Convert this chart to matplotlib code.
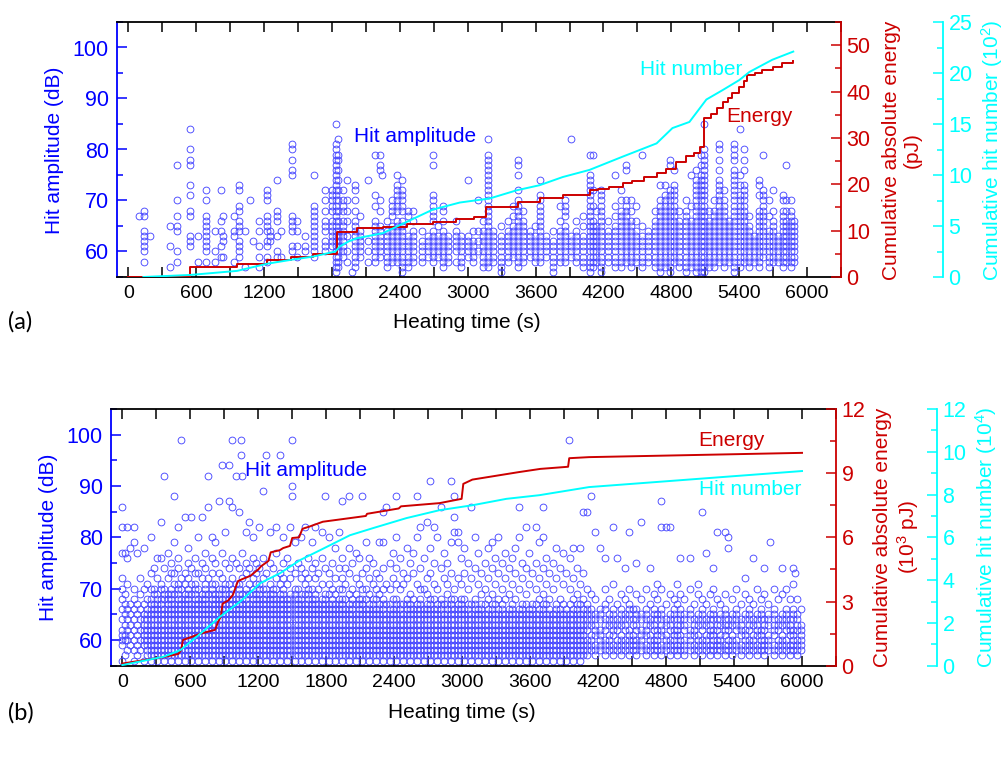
import matplotlib
matplotlib.use("Agg")
import matplotlib.pyplot as plt
from matplotlib.ticker import MultipleLocator

plt.rcParams['font.family'] = ['Liberation Sans', 'DejaVu Sans']
plt.rcParams['mathtext.fontset'] = 'custom'
plt.rcParams['mathtext.rm'] = 'Liberation Sans'
plt.rcParams['mathtext.it'] = 'Liberation Sans:italic'

BLUE = '#0000FF'
RED = '#CC0000'
CYAN = '#00FFFF'
MARK = '#4848FF'

# ---------------- panel (a) ----------------
# hit amplitude columns: (time in s, amplitude levels in dB)
a_hits = [
    (91, "67"), (135, "58,60-64,67,68"), (188, "63"), (371, "57,61,65"),
    (429, "58,60,64,65,67,70,77"), (547, "61-63,67,68,71,73,77,78,80,84"),
    (615, "58,63"), (685, "58,60-67,70,72"), (762, "58,60,64"),
    (821, "59,61,64,66,72"), (841, "59,62,63,67"), (935, "58,63,64,67"),
    (982, "59-62,64-66,68,69,72,73"), (1033, "57,64"), (1077, "70"), (1106, "62"),
    (1159, "57,59,61,64,66"), (1224, "58,59,61,62,64-67,70-72"), (1253, "62-64"),
    (1312, "59,60,63,66-68,74"), (1347, "59,64"), (1444, "60,61,64-67,75,76,78,80,81"),
    (1489, "59,61,64,66"), (1562, "60,61,63"), (1642, "59-69,75"),
    (1739, "60-62,64-66,68,70,72"), (1797, "61-66,68-72"), (1836, "56-81,85"),
    (1856, "57-64,66,68,70,72,74,76,78,79,82"), (1900, "59-66,68-70,72"),
    (1930, "58,60,63,66,68,70,74"), (1974, "56"), (2003, "57-66,68,70,72,73"),
    (2047, "59-64,67"), (2121, "58,60,62,74"), (2180, "58-66,69,71,79"),
    (2224, "59-65,68,70,76,77,79"), (2244, "75"), (2283, "57-64,66"),
    (2327, "58-65,67-70"), (2371, "58-66,68-73,75"), (2415, "56-66,68-72,74"),
    (2474, "57-63,67,68"), (2518, "58-64,66,68"), (2592, "58-62,64"),
    (2650, "59-63"), (2695, "58-64,66-71,77,79"), (2739, "59-63,65"),
    (2783, "57-64,66,68,69"), (2827, "58-63"), (2900, "58,60-64,66"),
    (2945, "57-63"), (3003, "59-63,74"), (3047, "58-62,64"), (3092, "60,62,64,70"),
    (3136, "57-64,66"), (3180, "57-79,82"), (3224, "58-64"), (3298, "56-63,65"),
    (3357, "58-64,66"), (3401, "59-65,67,69"), (3445, "57-70,72,75,77,78"),
    (3489, "58-66,68"), (3548, "59-64"), (3592, "58-63,65"), (3636, "58-71,74"),
    (3695, "59-63"), (3754, "56-62,64"), (3812, "58-64,66,69"),
    (3857, "58-65,67-70"), (3916, "59-63,82"), (3960, "58-64,66"),
    (4018, "57-63,65,67"), (4077, "56-75,79"), (4136, "58-65,68"),
    (4107, "57-66,69,72,79"), (4181, "56-72"), (4240, "58-64,66"),
    (4299, "57-65,67,69,75"), (4358, "57-68,70,72"), (4402, "58-70,76,77"),
    (4446, "57-66,68,70"), (4490, "58-64,66,69"), (4540, "57-63,65,79"),
    (4593, "58-64"), (4652, "57-66,68"), (4696, "56-70,73"), (4740, "57-71,73"),
    (4784, "56-72,77,78"), (4828, "58-73,76"), (4872, "57-66,68"),
    (4931, "56-68,70"), (4975, "57-66,69,75"), (5019, "56-74,76"),
    (5064, "55-75,77,79"), (5093, "56-80,85"), (5137, "57-66,68"),
    (5181, "57-68,70"), (5225, "58-74,76,78,80,81"), (5270, "57-70,72"),
    (5314, "58-66"), (5358, "56-76,78-81"), (5408, "57-71,73,75,84"),
    (5446, "58-73,76,78,80"), (5490, "57-65,67"), (5534, "58-63"),
    (5578, "57-68,71,73,74"), (5608, "59-72,79"), (5667, "57-64,67,70"),
    (5696, "58-66,68,72"), (5740, "58-63"), (5784, "57-68,70,71"),
    (5814, "58-66,68,70,77"), (5858, "57-68,70"), (5888, "58-66"),
]

# cumulative absolute energy (pJ), stepwise
a_energy_t = [0, 547, 962, 1227, 1439, 1633, 1845, 2021, 2250, 2460, 2690, 2900,
              3060, 3166, 3443, 3636, 3840, 4077, 4150, 4250, 4370, 4450, 4560,
              4670, 4750, 4845, 4930, 5000, 5050, 5093, 5150, 5207, 5260, 5300,
              5340, 5400, 5440, 5472, 5540, 5605, 5700, 5781, 5878]
a_energy_pj = [0, 2.2, 2.8, 3.7, 4.4, 4.9, 9.8, 10.5, 10.8, 11.5, 11.9, 12.5,
               12.9, 15.2, 16.2, 17.0, 17.7, 18.7, 19.0, 19.5, 20.2, 20.8, 21.5,
               22.4, 23.3, 24.9, 26.0, 26.8, 28.1, 34.3, 35.2, 36.4, 37.8, 38.6,
               39.7, 41.0, 42.3, 43.5, 44.0, 44.6, 45.4, 46.1, 46.6]

# cumulative hit number (x10^2)
a_count_t = [133, 547, 962, 1227, 1447, 1633, 1830, 1870, 1950, 2021, 2250, 2460,
             2690, 2930, 3195, 3433, 3636, 3840, 4077, 4370, 4670, 4810, 4960,
             5110, 5250, 5400, 5490, 5693, 5878]
a_count_n = [0, 0.2, 0.6, 1.3, 1.7, 2.0, 2.5, 3.0, 3.5, 3.8, 4.3, 5.4,
             6.6, 7.3, 7.7, 8.5, 9.0, 9.8, 10.5, 11.8, 13.1, 14.6, 15.2,
             17.4, 18.3, 19.3, 20.1, 21.3, 22.1]

# ---------------- panel (b) ----------------
b_hits = [
    (0, "56,59-62,64,66,68,70,72,77,82,86"), (20, "57,60,61,63,65,67,69,77"),
    (45, "58,60,62,64,66,71,76,82"), (70, "59,61,63,65,67,78"),
    (100, "56,58,60,62,64,66,68,70,79,82"), (130, "57,59,61,63,65,67,77"),
    (160, "58,60,62,64,66,69,72"), (190, "56,59-65,67,70,78"),
    (220, "57-66,68,71"), (250, "56-68,70,73,80"), (280, "57-67,69,70,74"),
    (310, "56-69,72,76"), (340, "57-68,70,71,76,83"), (370, "56-66,68-70,74,92"),
    (400, "57-69,72,77"), (430, "56-70,73,75"), (460, "57-67,69,71,73,79,88"),
    (490, "56-71,74,76,82"), (520, "57-68,70,72,99"), (550, "56-69,71,73,84"),
    (580, "57-70,72,75,78"), (610, "56-67,69,71,74,84"), (640, "57-71,73,76"),
    (670, "56-68,70,73,80"), (700, "57-69,72,75,84"), (730, "56-71,74,77"),
    (760, "57-67,69,72,86,92"), (790, "56-71,73,76,80"), (820, "57-69,71,75,79"),
    (850, "56-70,73,87"), (880, "57-68,70,72,77,94"), (910, "56-71,75,81"),
    (940, "57-69,71,74,87,94"), (970, "56-70,72,76,86,99"), (1000, "57-68,71,75,92"),
    (1030, "56-71,74,85"), (1045, "96,99"), (1060, "57-69,72,77,92"),
    (1090, "56-70,73,75,81"), (1120, "57-67,69,71,74,83"), (1150, "56-70,72,76,80"),
    (1180, "57-69,71,73,75"), (1210, "56-71,74,82"), (1240, "57-68,70,72,76,89"),
    (1270, "56-70,73,96"), (1300, "57-69,71,75,81"), (1330, "56-70,74"),
    (1360, "57-68,70,72,77,82"), (1390, "56-69,71,73,96"), (1420, "57-70,72,75,80"),
    (1450, "56-68,71,76"), (1480, "57-69,72,74,82"), (1500, "88,90,99"),
    (1520, "56-70,73,79"), (1550, "57-68,70,75"), (1580, "56-69,72,74,80"),
    (1610, "57-67,69,71,73,82"), (1640, "56-70,72,76"), (1670, "57-68,70,74,79"),
    (1700, "56-69,72,75,82"), (1730, "57-67,70,73"), (1760, "56-68,71,76,81"),
    (1790, "57-69,74,88"), (1820, "56-67,69,71,73,80"), (1850, "57-68,70,75"),
    (1880, "56-67,69,72,78"), (1910, "57-68,70,74,81"),
    (1940, "56-68,70,72,76,87"), (1970, "57-66,68,71,74"), (2000, "56-67,69,73,78,88"),
    (2030, "57-68,70,75"), (2060, "56-65,67,69,72,77"), (2090, "57-67,68,71,76"),
    (2120, "56-68,70,73,88"), (2150, "57-66,68,70,74,79"), (2180, "56-67,69,72,76"),
    (2210, "57-68,71,75"), (2240, "56-66,68,70,73"), (2270, "57-67,69,72,79"),
    (2300, "56-68,70,74,79,85"), (2330, "57-65,67,71,86"), (2360, "56-67,70,75"),
    (2390, "57-66,68,72,77"), (2420, "56-68,71,74,80,88"), (2450, "57-67,70,76"),
    (2480, "56-65,67,71,73"), (2510, "57-68,72,78"), (2540, "56-67,69,75"),
    (2570, "57-66,68,73,77"), (2600, "56-67,71,80,88"), (2630, "57-68,70,74,82"),
    (2660, "56-66,70,76"), (2690, "57-67,69,72,83"), (2720, "56-68,73,78,91"),
    (2750, "57-66,68,71,75,82"), (2780, "56-67,70,80"), (2810, "57-68,74,86"),
    (2840, "56-65,67,72,77"), (2870, "57-67,69,71,75"), (2900, "56-68,73,79,91"),
    (2930, "57-66,68,70,81,84,88"), (2960, "56-67,72,79,81"), (2990, "57-68,71,76"),
    (3020, "56-66,68,73,78"), (3050, "57-67,70,75"), (3080, "56-65,67,72,86"),
    (3110, "57-68,74,80"), (3140, "56-66,71,77"), (3170, "57-67,69,73"),
    (3200, "56-65,67,70,75"), (3230, "57-66,68,72,78"), (3260, "56-67,69,74,79"),
    (3290, "57-65,67,71,76"), (3320, "56-66,68,73,80"), (3350, "57-67,70,75"),
    (3380, "56-65,68,72,77"), (3410, "57-66,69,74"), (3440, "56-67,71,76"),
    (3470, "57-65,68,73,78"), (3500, "56-66,70,80,86"), (3530, "57-67,72,75"),
    (3560, "56-65,67,69,74,82"), (3590, "57-66,71,77"), (3620, "56-67,73"),
    (3650, "57-65,67,70,75,82"), (3680, "56-66,68,72,79"), (3710, "57-67,69,74,80,86"),
    (3740, "56-65,67,71,76"), (3770, "57-66,68,73"), (3800, "56-65,70,75"),
    (3830, "57-67,72,78"), (3860, "56-66,68,74"), (3890, "57-65,67,71,77"),
    (3920, "56-66,73"), (3940, "99"), (3950, "57-65,67,70,76"),
    (3980, "56-66,68,72,78"), (4010, "57-67,69,74"), (4040, "56-65,67,71,78"),
    (4070, "57-66,68,73,85"),
    (4100, "57-60,62-67,70,85"), (4141, "58-61,63-66,69,88"),
    (4171, "57-59,61-65,68,81"), (4215, "58-62,64-66,78"),
    (4265, "57-60,62-64,66,67,70,76"), (4300, "58-61,63-65,68"),
    (4332, "57-59,61-66,71,82"), (4367, "58-60,62-64,67,76"),
    (4400, "57-61,63-66,69"), (4435, "58-60,62-65,68,74"),
    (4470, "57-62,64-67,70,81"), (4505, "58-61,63,64,66"),
    (4534, "57-60,62-66,69,75"), (4581, "58-62,64,65,68,83"),
    (4620, "57-59,61-66,70"), (4654, "58-61,63,64,67,74"),
    (4690, "57-60,62-66,69"), (4720, "58-62,64,65,68,71"),
    (4757, "57-59,61-66,70,82,87"), (4800, "58-61,63,64,67,82"),
    (4836, "57-60,62-65,69,82"), (4870, "58-62,64-66,68"),
    (4900, "57-59,61-64,67,71"), (4924, "58-61,63-66,69,76"),
    (4960, "57-60,62-65,68"), (5012, "58-62,64-66,70,76"),
    (5050, "57-59,61-64,67"), (5085, "58-61,63-65,69,71"),
    (5120, "57-60,62-66,68,85"), (5153, "58-61,63,64,67,77"),
    (5190, "57-59,61-65,69"), (5212, "58-62,64-66,70,74"),
    (5247, "57-60,62-64,68,81"), (5280, "58-61,63-65,67"),
    (5320, "57-59,61-66,69,81"), (5343, "58-60,62-64,78,80"),
    (5380, "57-61,63-65,68"), (5420, "58-60,62-66,70"),
    (5460, "57-59,61-64,67"), (5500, "58-62,64,65,69,72"),
    (5535, "57-60,62-66,68"), (5563, "58-61,63,64,67,76"),
    (5600, "57-59,61-65,70"), (5635, "58-62,64-66,68"),
    (5663, "57-60,62-64,69,74"), (5700, "58-61,63-65,67"),
    (5716, "79"), (5750, "57-59,61-66,70"), (5790, "58-60,62-64,68"),
    (5824, "57-61,63-65,69,74"), (5860, "58-60,62-66,70"),
    (5890, "57-59,61-64,68"), (5921, "58-62,64-66,71,74"), (5936, "73"),
    (5960, "57-60,62-65,68"), (5990, "58-63,66"),
]

# cumulative absolute energy (10^3 pJ)
b_energy_t = [0, 360, 495, 520, 535, 690, 820, 845, 870, 885, 935, 975, 1020,
              1060, 1130, 1200, 1225, 1290, 1310, 1390, 1420, 1480, 1500, 1560,
              1590, 1650, 1770, 2010, 2150, 2160, 2440, 2460, 2800, 2995, 3010,
              3090, 3500, 3690, 3935, 3945, 4120, 6000]
b_energy_kpj = [0.10, 0.40, 0.55, 0.75, 1.20, 1.50, 1.68, 2.05, 2.30, 2.90, 3.05,
                3.30, 3.95, 4.05, 4.20, 4.50, 4.65, 4.90, 5.30, 5.40, 5.50, 5.60,
                5.97, 6.00, 6.40, 6.50, 6.73, 6.90, 7.00, 7.10, 7.35, 7.45, 7.60,
                7.80, 8.50, 8.70, 9.05, 9.20, 9.30, 9.70, 9.75, 9.95]

# cumulative hit number (x10^4)
b_count_t = [0, 365, 513, 689, 865, 1041, 1218, 1394, 1570, 1746, 2010, 2212,
             2508, 2800, 3090, 3390, 3680, 4120, 6000]
b_count_n = [0.03, 0.42, 0.73, 1.50, 2.30, 3.00, 3.86, 4.33, 4.94, 5.40, 6.10,
             6.43, 6.90, 7.27, 7.50, 7.80, 7.97, 8.35, 9.10]

x_ticks = [0, 600, 1200, 1800, 2400, 3000, 3600, 4200, 4800, 5400, 6000]

W, H = 1005, 758
XTICK_FS = 14
YTICK_FS = 15.5
LABEL_FS = 15


def expand(columns):
    ts, amps = [], []
    for t, spec in columns:
        for part in spec.split(','):
            if '-' in part:
                lo, hi = part.split('-')
                lv = range(int(lo), int(hi) + 1)
            else:
                lv = [int(part)]
            for v in lv:
                ts.append(t)
                amps.append(v)
    return ts, amps


def fx(px):
    return px / W


def fy(py):
    return 1 - py / H


def panel(fig, rect, hits, e_t, e_v, e_steps, c_t, c_v, e_lim, e_major, e_minor,
          c_lim, c_major, c_minor, cyan_pos):
    ax = fig.add_axes(rect)
    ts, amps = expand(hits)
    ax.plot(ts, amps, linestyle='none', marker='o', markersize=4.9,
            markerfacecolor='none', markeredgecolor=MARK, markeredgewidth=0.65,
            zorder=2)
    ax.set_xlim(-100, 6300)
    ax.set_ylim(55, 105)
    ax.set_xticks(x_ticks)
    ax.xaxis.set_minor_locator(MultipleLocator(300))
    ax.set_yticks([60, 70, 80, 90, 100])
    ax.yaxis.set_minor_locator(MultipleLocator(5))
    ax.tick_params(axis='x', which='both', direction='in', top=True, bottom=True,
                   length=7, width=1.1, labelsize=XTICK_FS, pad=6, color='black')
    ax.tick_params(axis='y', which='major', direction='in', length=7, width=1.1,
                   colors=BLUE, labelsize=YTICK_FS, pad=6)
    ax.tick_params(axis='y', which='minor', direction='in', length=4, width=1.1,
                   colors=BLUE)
    for s in ('top', 'bottom'):
        ax.spines[s].set_linewidth(1.3)
        ax.spines[s].set_color('black')
    ax.spines['left'].set_color(BLUE)
    ax.spines['left'].set_linewidth(1.3)
    ax.spines['right'].set_visible(False)

    tw = ax.twinx()
    if e_steps:
        tw.plot(e_t, e_v, color=RED, lw=1.4, drawstyle='steps-post')
    else:
        tw.plot(e_t, e_v, color=RED, lw=1.4)
    tw.set_ylim(*e_lim)
    tw.yaxis.set_major_locator(MultipleLocator(e_major))
    tw.yaxis.set_minor_locator(MultipleLocator(e_minor))
    tw.tick_params(axis='y', which='major', direction='in', length=7, width=1.1,
                   colors=RED, labelsize=YTICK_FS, pad=4)
    tw.tick_params(axis='y', which='minor', direction='in', length=4, width=1.1,
                   colors=RED)
    for s in ('left', 'top', 'bottom'):
        tw.spines[s].set_visible(False)
    tw.spines['right'].set_color(RED)
    tw.spines['right'].set_linewidth(1.3)

    tc = ax.twinx()
    tc.plot(c_t, c_v, color=CYAN, lw=1.4)
    tc.set_ylim(*c_lim)
    tc.yaxis.set_major_locator(MultipleLocator(c_major))
    tc.yaxis.set_minor_locator(MultipleLocator(c_minor))
    tc.spines['right'].set_position(('axes', cyan_pos))
    for s in ('left', 'top', 'bottom'):
        tc.spines[s].set_visible(False)
    tc.spines['right'].set_color(CYAN)
    tc.spines['right'].set_linewidth(1.3)
    tc.tick_params(axis='y', which='major', direction='in', length=7, width=1.1,
                   colors=CYAN, labelsize=YTICK_FS, pad=4)
    tc.tick_params(axis='y', which='minor', direction='in', length=4, width=1.1,
                   colors=CYAN)
    return ax


fig = plt.figure(figsize=(W / 100, H / 100), dpi=100)

# panel (a)
ax_a = panel(fig, [fx(117), fy(277), fx(841 - 117), (277 - 22) / H],
             a_hits, a_energy_t, a_energy_pj, True, a_count_t, a_count_n,
             (0, 55), 10, 5, (0, 25), 5, 2.5, (943 - 117) / (841 - 117))
ax_a.text(2537, 82.5, 'Hit amplitude', color=BLUE, fontsize=LABEL_FS,
          ha='center', va='center')
ax_a.text(4980, 95.7, 'Hit number', color=CYAN, fontsize=LABEL_FS,
          ha='center', va='center', zorder=5)
ax_a.text(5580, 86.4, 'Energy', color=RED, fontsize=LABEL_FS,
          ha='center', va='center', zorder=5)

# panel (b)
ax_b = panel(fig, [fx(111), fy(665.7), fx(836 - 111), (665.7 - 409) / H],
             b_hits, b_energy_t, b_energy_kpj, False, b_count_t, b_count_n,
             (0, 12), 3, 1.5, (0, 12), 2, 1, (937 - 111) / (836 - 111))
ax_b.text(1084, 93.1, 'Hit amplitude', color=BLUE, fontsize=LABEL_FS,
          ha='left', va='center')
ax_b.text(5375, 98.9, 'Energy', color=RED, fontsize=LABEL_FS,
          ha='center', va='center', zorder=5)
ax_b.text(5543, 89.4, 'Hit number', color=CYAN, fontsize=LABEL_FS,
          ha='center', va='center', zorder=5)

# axis titles
fig.text(fx(55), fy(150), 'Hit amplitude (dB)', color=BLUE, fontsize=LABEL_FS,
         rotation=90, ha='center', va='center')
fig.text(fx(49), fy(537), 'Hit amplitude (dB)', color=BLUE, fontsize=LABEL_FS,
         rotation=90, ha='center', va='center')
fig.text(fx(902), fy(150), 'Cumulative absolute energy\n(pJ)', color=RED,
         fontsize=LABEL_FS, rotation=90, ha='center', va='center',
         multialignment='center', linespacing=1.15)
fig.text(fx(897), fy(537), 'Cumulative absolute energy\n(10$^{3}$ pJ)', color=RED,
         fontsize=LABEL_FS, rotation=90, ha='center', va='center',
         multialignment='center', linespacing=1.15)
fig.text(fx(992), fy(150), 'Cumulative hit number (10$^{2}$)', color=CYAN,
         fontsize=LABEL_FS, rotation=90, ha='center', va='center')
fig.text(fx(986), fy(537), 'Cumulative hit number (10$^{4}$)', color=CYAN,
         fontsize=LABEL_FS, rotation=90, ha='center', va='center')
fig.text(fx(467), fy(322), 'Heating time (s)', color='black', fontsize=LABEL_FS,
         ha='center', va='center')
fig.text(fx(462), fy(713), 'Heating time (s)', color='black', fontsize=LABEL_FS,
         ha='center', va='center')

# panel tags
fig.text(fx(8), fy(322), '(a)', fontsize=17, family=['Lato', 'DejaVu Sans'],
         ha='left', va='center')
fig.text(fx(8), fy(713), '(b)', fontsize=17, family=['Lato', 'DejaVu Sans'],
         ha='left', va='center')

fig.savefig('out.png', dpi=100)
